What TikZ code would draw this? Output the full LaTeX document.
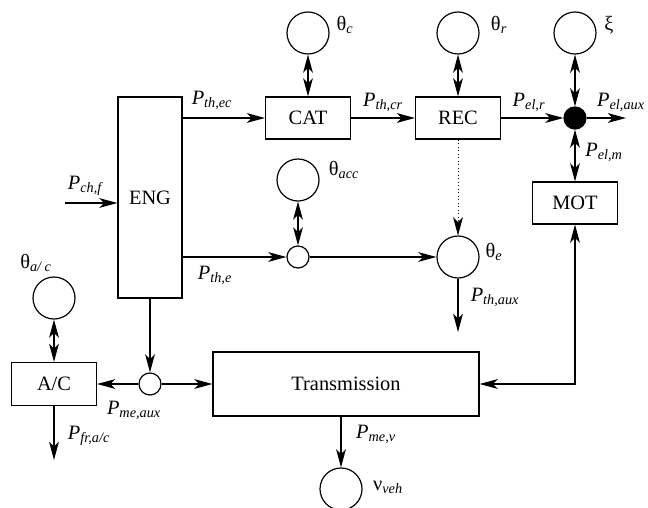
\documentclass[tikz,border=0pt]{standalone}
\usepackage{fontspec}
\setmainfont{Liberation Serif}
\usetikzlibrary{arrows.meta,positioning,calc}
\newcommand{\pw}[1]{\textit{P}\textsubscript{\itshape #1}}
\newcommand{\st}[2]{#1\textsubscript{\itshape #2}}
\tikzset{
  blk/.style={draw,rectangle,inner sep=0pt,minimum width=21.25mm,minimum height=10.5mm},
  circ/.style={draw,circle,inner sep=0pt,minimum size=10.5mm},
  junc/.style={draw,circle,inner sep=0pt,minimum size=5.5mm},
  busdot/.style={draw,fill=black,circle,inner sep=0pt,minimum size=5.5mm},
  lbl/.style={inner sep=0pt}
}

\begin{document}
\begin{tikzpicture}[x=0.25mm,y=-0.25mm,line width=0.85pt,font=\fontsize{14.5}{16}\selectfont,
  >={Stealth[length=13pt,width=7pt,inset=3.5pt]}]
\useasboundingbox (0,0) rectangle (648,508);
% ---------------- blocks ----------------
\node[blk,minimum width=16mm,minimum height=50.25mm] (eng) at (150,197.5) {ENG};
\node[blk] (cat) at (308,118) {CAT};
\node[blk] (rec) at (458,118) {REC};
\node[blk] (mot) at (575,203) {MOT};
\node[blk,minimum width=66.5mm,minimum height=16mm] (trans) at (346,384) {Transmission};
\node[blk,minimum height=10.75mm] (ac) at (54,384) {A/C};
% ---------------- states and junctions ----------------
\node[circ] (thc) at (308,33) {};
\node[circ] (thr) at (458,33) {};
\node[circ] (xi) at (575,33) {};
\node[circ] (thacc) at (298,180) {};
\node[circ] (the) at (458,257) {};
\node[circ] (thac) at (54,298) {};
\node[circ] (nu) at (341,489) {};
\node[junc] (jacc) at (298,257) {};
\node[junc] (jme) at (150,384) {};
\node[busdot] (bus) at (575,118) {};
\coordinate (chf) at (65,203);
\coordinate (elaux) at (626,118);
\coordinate (thaux) at (458,332);
\coordinate (frac) at (54,460);
% ---------------- power flows ----------------
\draw[->] (chf) -- (chf -| eng.west);
\draw[->] (eng.east |- cat.west) -- (cat.west);
\draw[->] (cat) -- (rec);
\draw[->] (rec) -- (bus);
\draw[->] (bus) -- (elaux);
\draw[<->] (thc) -- (cat);
\draw[<->] (thr) -- (rec);
\draw[<->] (xi) -- (bus);
\draw[<->] (bus) -- (mot);
\draw[<->] (thacc) -- (jacc);
\draw[<->] (thac) -- (ac);
\draw[->] (eng.east |- jacc) -- (jacc);
\draw[->] (jacc) -- (the);
\draw[->,dotted,line width=0.5pt] (rec) -- (the);
\draw[->] (the) -- (thaux);
\draw[->] (eng) -- (jme);
\draw[->] (jme) -- (ac);
\draw[->] (jme) -- (trans);
\draw[->] (ac) -- (frac);
\draw[->] (nu |- trans.south) -- (nu);
\draw[<->] (mot) |- (trans);
% ---------------- labels ----------------
\node[lbl] (lchf) at (85,186) {\pw{ch,f}};
\node[lbl] (lthec) at (212,100) {\pw{th,ec}};
\node[lbl] (lthcr) at (383,102) {\pw{th,cr}};
\node[lbl] (lelr) at (529,102) {\pw{el,r}};
\node[lbl] (lelaux) at (621,102) {\pw{el,aux}};
\node[lbl] (lelm) at (604,152) {\pw{el,m}};
\node[lbl] (lthc) at (345,25) {\st{θ}{c}};
\node[lbl] (lthr) at (499,25) {\st{θ}{r}};
\node[lbl] (lxi) at (609,25) {ξ};
\node[lbl] (lthacc) at (344,170) {\st{θ}{acc}};
\node[lbl] (lthe) at (494,252) {\st{θ}{e}};
\node[lbl] (lthaux) at (495,297) {\pw{th,aux}};
\node[lbl] (lthe2) at (215,275) {\pw{th,e}};
\node[lbl] (lthac) at (36,263) {\st{θ}{a/ c}};
\node[lbl] (lmeaux) at (134,410) {\pw{me,aux}};
\node[lbl] (lfrac) at (89,436) {\pw{fr,a/c}};
\node[lbl] (lmev) at (376,434) {\pw{me,v}};
\node[lbl] (lnu) at (388,487) {\st{ν}{veh}};
\end{tikzpicture}
\end{document}
